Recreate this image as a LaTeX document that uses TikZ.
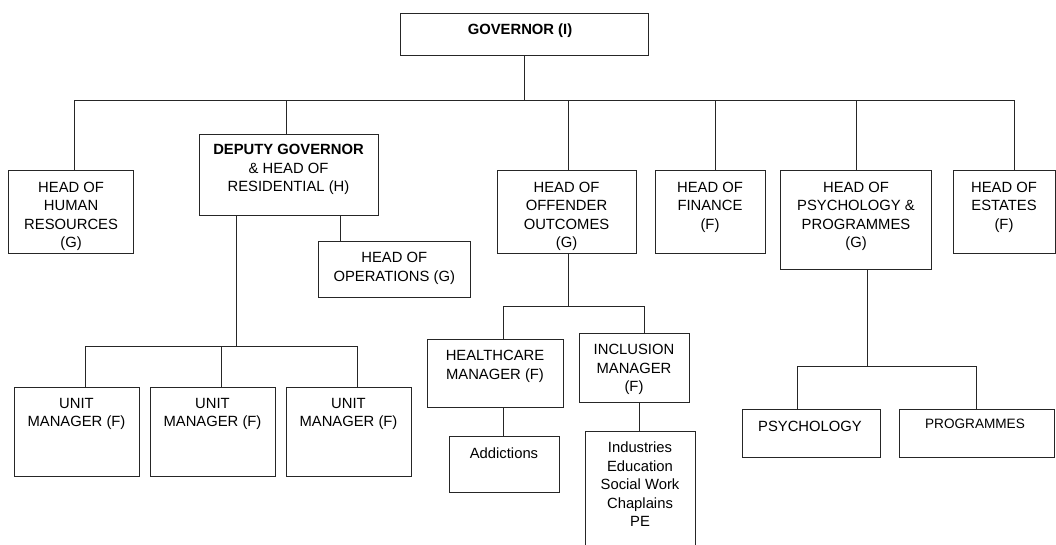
\documentclass[tikz,border=0pt]{standalone}
\usepackage{fontspec}
\setmainfont{Liberation Sans}
\usetikzlibrary{calc}
\begin{document}
\begin{tikzpicture}[x=1pt,y=-1pt,
  box/.style={draw=black!85, line width=0.9pt, inner sep=0pt, outer sep=0pt},
  conn/.style={draw=black!85, line width=0.9pt},
  txt/.style={inner sep=0pt, align=center, anchor=north, font=\fontsize{14.8}{18.5}\selectfont},
  smalltxt/.style={txt, font=\fontsize{13.6}{16}\selectfont}]
\useasboundingbox (0,0) rectangle (1056,544);
\clip (0,0) rectangle (1056,544);
% boxes
\node[box, minimum width=248pt, minimum height=42pt] (gov) at (524,34) {};
\node[box, minimum width=124.8pt, minimum height=83pt] (hr) at (71.1,211.5) {};
\node[box, minimum width=179pt, minimum height=81pt] (dep) at (288.5,174.5) {};
\node[box, minimum width=151.5pt, minimum height=56.1pt] (ops) at (394.25,269.75) {};
\node[box, minimum width=139pt, minimum height=83pt] (off) at (566.5,211.5) {};
\node[box, minimum width=110pt, minimum height=83pt] (fin) at (710,211.5) {};
\node[box, minimum width=151pt, minimum height=99.5pt] (psy) at (856,219.75) {};
\node[box, minimum width=102pt, minimum height=83pt] (est) at (1004,211.5) {};
\node[box, minimum width=125pt, minimum height=88.3pt] (u1) at (76.5,431.85) {};
\node[box, minimum width=125pt, minimum height=88.3pt] (u2) at (212.5,431.85) {};
\node[box, minimum width=125pt, minimum height=88.3pt] (u3) at (348.5,431.85) {};
\node[box, minimum width=136pt, minimum height=68pt] (hc) at (495,373) {};
\node[box, minimum width=110pt, minimum height=69pt] (inc) at (634,367.5) {};
\node[box, minimum width=110pt, minimum height=56pt] (add) at (504,464) {};
\node[box, minimum width=110pt, minimum height=129pt] (ind) at (640,495.5) {};
\node[box, minimum width=138pt, minimum height=48pt] (psych) at (811,433.5) {};
\node[box, minimum width=154.5pt, minimum height=48pt] (prog) at (976.75,433.5) {};
% texts
\node[txt] (t-gov) at (520,23.5) {\textbf{GOVERNOR (I)}};
\node[txt] (t-hr) at (71.1,181.5) {HEAD OF\\HUMAN\\RESOURCES\\(G)};
\node[txt] (t-dep) at (288.5,144) {\textbf{DEPUTY GOVERNOR}\\\& HEAD OF\\RESIDENTIAL (H)};
\node[txt] (t-ops) at (394.25,252) {HEAD OF\\OPERATIONS (G)};
\node[txt] (t-off) at (566.5,181.5) {HEAD OF\\OFFENDER\\OUTCOMES\\(G)};
\node[txt] (t-fin) at (710,181.5) {HEAD OF\\FINANCE\\(F)};
\node[txt] (t-psy) at (856,181.5) {HEAD OF\\PSYCHOLOGY \&\\PROGRAMMES\\(G)};
\node[txt] (t-est) at (1004,181.5) {HEAD OF\\ESTATES\\(F)};
\node[txt] (t-u1) at (76.5,398) {UNIT\\MANAGER (F)};
\node[txt] (t-u2) at (212.5,398) {UNIT\\MANAGER (F)};
\node[txt] (t-u3) at (348.5,398) {UNIT\\MANAGER (F)};
\node[txt] (t-hc) at (495,350) {HEALTHCARE\\MANAGER (F)};
\node[txt] (t-inc) at (634,344) {INCLUSION\\MANAGER\\(F)};
\node[txt] (t-add) at (504,448) {Addictions};
\node[txt] (t-ind) at (640,442) {Industries\\Education\\Social Work\\Chaplains\\PE};
\node[txt] (t-psych) at (810,421) {PSYCHOLOGY};
\node[smalltxt] (t-prog) at (975,418.3) {PROGRAMMES};
% connection points
\coordinate (bus1) at (0,100);
\coordinate (bus2) at (0,346);
\coordinate (bus3) at (0,306);
\coordinate (bus4) at (0,366);
\coordinate (hr-in) at ([xshift=2.9pt]hr.north);
\coordinate (dep-in) at ([xshift=-2.5pt]dep.north);
\coordinate (off-in) at ([xshift=1.5pt]off.north);
\coordinate (fin-in) at ([xshift=5pt]fin.north);
\coordinate (psy-in) at (psy.north);
\coordinate (est-in) at ([xshift=10pt]est.north);
\coordinate (dep-ops) at ([xshift=51.5pt]dep.south);
\coordinate (dep-out) at ([xshift=-51.9pt]dep.south);
\coordinate (u1-in) at ([xshift=8.5pt]u1.north);
\coordinate (u2-in) at ([xshift=8.5pt]u2.north);
\coordinate (u3-in) at ([xshift=8.5pt]u3.north);
\coordinate (off-out) at ([xshift=1.5pt]off.south);
\coordinate (hc-in) at ([xshift=8pt]hc.north);
\coordinate (inc-in) at ([xshift=10pt]inc.north);
\coordinate (hc-out) at ([xshift=8pt]hc.south);
\coordinate (inc-out) at ([xshift=5pt]inc.south);
\coordinate (psy-out) at ([xshift=11pt]psy.south);
\coordinate (psych-in) at ([xshift=-14pt]psych.north);
\coordinate (prog-in) at ([xshift=-0.75pt]prog.north);
% connectors
\draw[conn] (gov.south) -- (gov.south |- bus1);
\draw[conn] (hr-in |- bus1) -- (est-in |- bus1);
\foreach \n in {hr,dep,off,fin,psy,est} \draw[conn] (\n-in) -- (\n-in |- bus1);
\draw[conn] (dep-ops) -- (dep-ops |- ops.north);
\draw[conn] (dep-out) -- (dep-out |- bus2);
\draw[conn] (u1-in |- bus2) -- (u3-in |- bus2);
\foreach \n in {u1,u2,u3} \draw[conn] (\n-in) -- (\n-in |- bus2);
\draw[conn] (off-out) -- (off-out |- bus3);
\draw[conn] (hc-in |- bus3) -- (inc-in |- bus3);
\draw[conn] (hc-in) -- (hc-in |- bus3);
\draw[conn] (inc-in) -- (inc-in |- bus3);
\draw[conn] (hc-out) -- (hc-out |- add.north);
\draw[conn] (inc-out) -- (inc-out |- ind.north);
\draw[conn] (psy-out) -- (psy-out |- bus4);
\draw[conn] (psych-in |- bus4) -- (prog-in |- bus4);
\draw[conn] (psych-in) -- (psych-in |- bus4);
\draw[conn] (prog-in) -- (prog-in |- bus4);
\end{tikzpicture}
\end{document}
